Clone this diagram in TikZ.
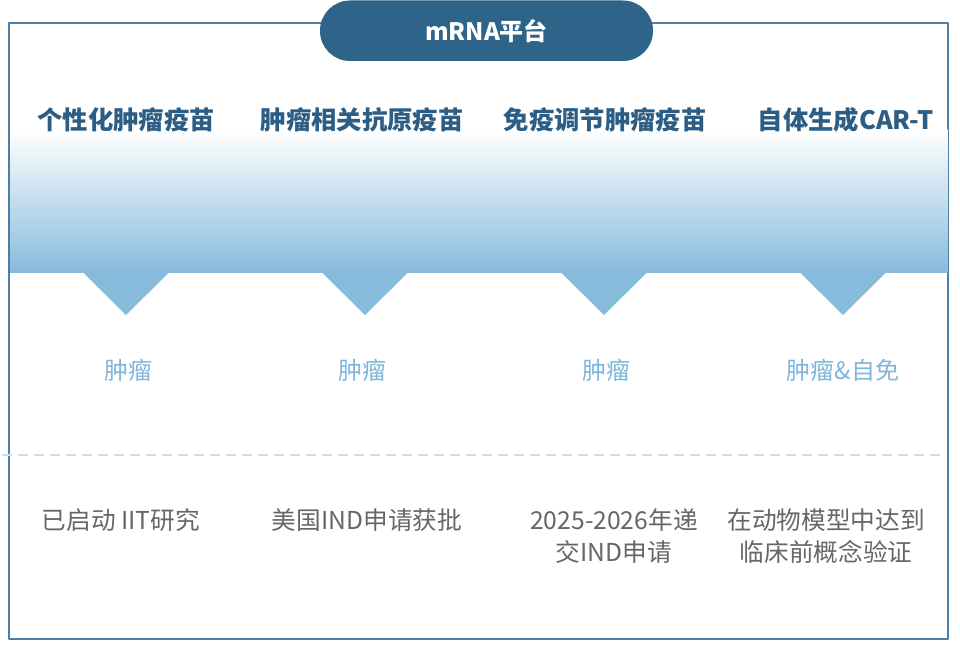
\documentclass[tikz,border=0pt]{standalone}
\usepackage{fontspec}
\newfontfamily\cjk{Noto Sans CJK SC}
\usetikzlibrary{calc}
\definecolor{pillblue}{HTML}{2E6489}
\definecolor{headblue}{HTML}{2C5D84}
\definecolor{bandblue}{HTML}{86BBDB}
\definecolor{tagblue}{HTML}{7DB6DA}
\definecolor{dashblue}{HTML}{C3DFF1}
\definecolor{framecol}{HTML}{4D7EA6}
\definecolor{notegray}{HTML}{666666}
\begin{document}
\begin{tikzpicture}
    [line join=bevel,x=0.75pt,y=-0.75pt,
     head/.style={font=\cjk\bfseries\fontsize{19}{23}\selectfont,text=headblue},
     tag/.style={font=\cjk\fontsize{18}{22}\selectfont,text=tagblue},
     note/.style={font=\cjk\fontsize{18.5}{24}\selectfont,text=notegray,align=center,anchor=north}]
    \useasboundingbox (0,0) rectangle (960,648);

    % frame and band
    \draw[framecol,line width=1.1pt] (9,23) rectangle (948,639);
    \shade[top color=white,bottom color=bandblue] (10,130) rectangle (947.5,273);
    \foreach \cx in {126,365,604,843}
      \fill[bandblue] (\cx-43,272.5) -- (\cx+43,272.5) -- (\cx,315) -- cycle;

    % title pill
    \fill[pillblue,rounded corners=22.5pt] (320,0.5) rectangle (653,61);
    \node[font=\cjk\bfseries\fontsize{18}{22}\selectfont,text=white] (T) at (486.5,31) {mRNA平台};

    % headers
    \node[head] (H1) at (126,120) {个性化肿瘤疫苗};
    \node[head] (H2) at (362,120) {肿瘤相关抗原疫苗};
    \node[head] (H3) at (605,120) {免疫调节肿瘤疫苗};
    \node[head] (H4) at (846,120) {自体生成CAR-T};

    % indications
    \node[tag] (G1) at (128,370) {肿瘤};
    \node[tag] (G2) at (362,370) {肿瘤};
    \node[tag] (G3) at (606,370) {肿瘤};
    \node[tag] (G4) at (843,370) {肿瘤\&自免};

    \draw[dashblue,line width=1.5pt,dash pattern=on 7.5pt off 4.5pt] (2,455) -- (946,455);

    % status
    \node[note] (N1) at (121,504) {已启动 IIT研究};
    \node[note] (N2) at (367,504) {美国IND申请获批};
    \node[note] (N3) at (614,504) {2025-2026年递\\交IND申请};
    \node[note] (N4) at (826,504) {在动物模型中达到\\临床前概念验证};
  \end{tikzpicture}
\end{document}
